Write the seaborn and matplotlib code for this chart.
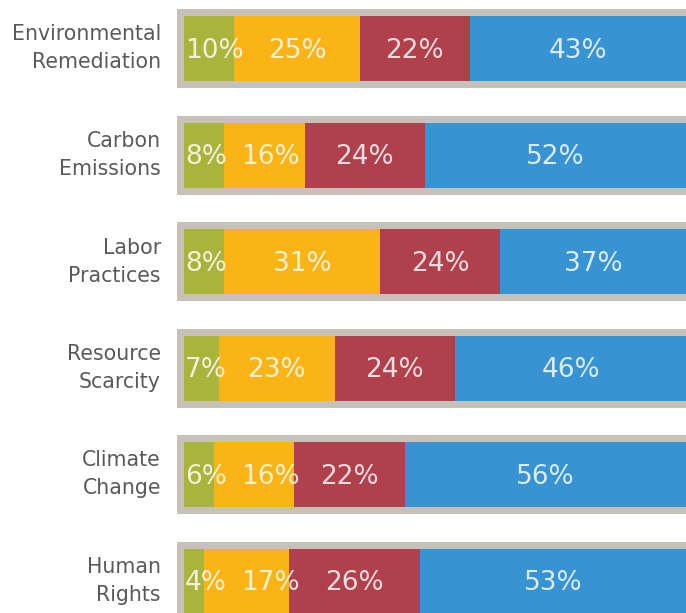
import matplotlib
matplotlib.use("Agg")
import matplotlib.pyplot as plt
import seaborn as sns
import pandas as pd
import numpy as np

categories = ["Environmental\nRemediation", "Carbon\nEmissions", "Labor\nPractices",
              "Resource\nScarcity", "Climate\nChange", "Human\nRights"]
seg1 = [10, 8, 8, 7, 6, 4]
seg2 = [25, 16, 31, 23, 16, 17]
seg3 = [22, 24, 24, 24, 22, 26]
seg4 = [43, 52, 37, 46, 56, 53]
series = [seg1, seg2, seg3, seg4]
colors = ["#A9B43C", "#FBB416", "#B0404C", "#3793D1"]
frame_color = "#C6C2BA"

sns.set_theme(style="white")
plt.rcParams['font.family'] = ['DejaVu Sans']

fig = plt.figure(figsize=(6.86, 6.13), dpi=100)
ax = fig.add_axes([177/686, 0, 509/686, 1])

n = len(categories)
ypos = np.arange(n)
pitch = 106.5
bar_h = 65 / pitch
frame_h = 79 / pitch

# gray frames
ax.barh(ypos, 120, left=-1.4, height=frame_h, color=frame_color, linewidth=0, zorder=0)

# stacked bars via seaborn (draw cumulative from largest to smallest)
cum = np.cumsum(np.array(series), axis=0)
for k in range(len(series) - 1, -1, -1):
    df = pd.DataFrame({"cat": categories, "val": cum[k]})
    sns.barplot(data=df, x="val", y="cat", orient="h", color=colors[k],
                width=bar_h, saturation=1, linewidth=0, ax=ax,
                zorder=2 + (len(series) - k))

ax.set_xlim(-1.4, 100)
ax.set_ylim((613 - 48.5) / pitch, -48.5 / pitch)

# value labels, centered but pushed right to avoid overlaps
renderer = fig.canvas.get_renderer()
px_per_unit = (509 / 101.4)
starts = np.vstack([np.zeros(n), cum[:-1]])
gap = 14 / px_per_unit
for i in range(n):
    prev_right = -1e9
    for k in range(len(series)):
        v = series[k][i]
        s = starts[k][i]
        t = ax.text(s + v / 2, i + 0.02, f"{v}%", ha="center", va="center", fontsize=19,
                    color="white", alpha=0.82, zorder=10)
        w = t.get_window_extent(renderer).width / px_per_unit
        left = s + v / 2 - w / 2
        left = max(left, s + 0.2, prev_right + gap)
        t.set_x(left + w / 2)
        prev_right = left + w

# category labels
for i, c in enumerate(categories):
    ax.text(-16 / 509, i, c, transform=ax.get_yaxis_transform(), ha="right", va="center",
            fontsize=14.8, color="#5a5a5a", linespacing=1.5)

ax.set_xlabel("")
ax.set_ylabel("")
ax.set_xticks([])
ax.set_yticks([])
for sp in ax.spines.values():
    sp.set_visible(False)

fig.savefig("out.png", dpi=100, facecolor="white")
